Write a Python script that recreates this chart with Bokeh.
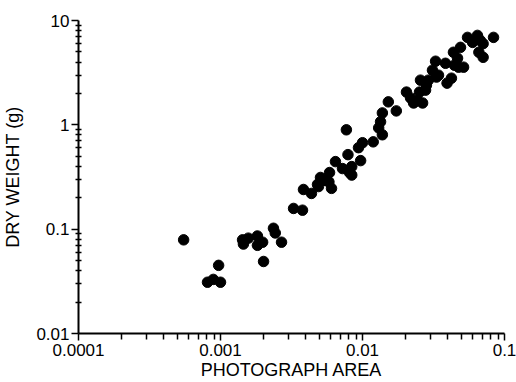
from bokeh.plotting import figure
from bokeh.models import FixedTicker, CustomJSTickFormatter, ColumnDataSource
from bokeh.embed import file_html
from bokeh.resources import INLINE

photo_area = [0.00055, 0.00081, 0.00089, 0.00100, 0.00097, 0.00143, 0.00145, 0.00157,
              0.00182, 0.00198, 0.00182, 0.00201, 0.00236, 0.00243, 0.00269, 0.00327,
              0.00378, 0.00384, 0.00437, 0.00482, 0.00506, 0.00549, 0.00586, 0.00605,
              0.00645, 0.00723, 0.0077, 0.0079, 0.0081, 0.0084, 0.0084, 0.00937,
              0.0100, 0.0097, 0.0119, 0.0138, 0.0130, 0.0134, 0.0138, 0.0152,
              0.0173, 0.0204, 0.0218, 0.0229, 0.0265, 0.0256, 0.0278, 0.0291,
              0.0282, 0.0311, 0.0327, 0.0343, 0.0332, 0.0384, 0.0394, 0.0423,
              0.0444, 0.0437, 0.0467, 0.0490, 0.0515, 0.0475, 0.0549, 0.0596,
              0.0645, 0.0675, 0.0707, 0.0660, 0.0707, 0.0837, 0.0049, 0.0058,
              0.0252, 0.0245]
dry_weight = [0.079, 0.031, 0.033, 0.031, 0.045, 0.079, 0.072, 0.082,
              0.086, 0.075, 0.070, 0.049, 0.102, 0.092, 0.075, 0.158,
              0.152, 0.240, 0.220, 0.268, 0.313, 0.293, 0.349, 0.246,
              0.444, 0.381, 0.896, 0.518, 0.349, 0.398, 0.33, 0.604,
              0.674, 0.454, 0.687, 0.803, 0.935, 1.07, 1.30, 1.66,
              1.36, 2.06, 1.81, 1.62, 1.62, 2.68, 2.15, 2.68,
              2.40, 3.34, 4.07, 2.99, 2.87, 3.89, 2.51, 2.80,
              3.73, 4.96, 4.35, 5.53, 3.57, 3.57, 6.89, 6.17,
              7.2, 6.45, 6.0, 4.96, 4.44, 6.89, 0.256, 0.284,
              2.06, 1.70]

x_decades = [0.0001, 0.001, 0.01, 0.1]
y_decades = [0.01, 0.1, 1, 10]

def minors(decades):
    out = []
    for d in decades[:-1]:
        out += [d * m for m in range(2, 10)]
    return out

font = "Liberation Sans"

p = figure(width=516, height=382, x_axis_type="log", y_axis_type="log",
           x_range=(x_decades[0], x_decades[-1]), y_range=(y_decades[0], y_decades[-1]),
           output_backend="svg", toolbar_location=None,
           min_border_top=20, min_border_right=12, min_border_left=10, min_border_bottom=10)
p.outline_line_color = None
p.grid.visible = False
p.background_fill_color = "white"
p.border_fill_color = "white"

src = ColumnDataSource(dict(x=photo_area, y=dry_weight))
p.scatter("x", "y", source=src, size=10.5, fill_color="black", line_color="black")

fmt = CustomJSTickFormatter(code="return tick.toString();")

xa = p.xaxis[0]
xa.ticker = FixedTicker(ticks=x_decades, minor_ticks=minors(x_decades))
xa.formatter = fmt
xa.axis_label = "PHOTOGRAPH AREA"
xa.axis_line_width = 2
xa.major_tick_line_width = 1.5
xa.minor_tick_line_width = 1.5
xa.major_tick_in = 0
xa.major_tick_out = 7
xa.minor_tick_in = 0
xa.minor_tick_out = 6
xa.major_label_standoff = 3
xa.axis_label_standoff = 1
xa.major_label_text_font = font
xa.major_label_text_font_size = "17px"
xa.major_label_text_color = "black"
xa.axis_label_text_font = font
xa.axis_label_text_font_size = "18px"
xa.axis_label_text_font_style = "normal"
xa.axis_label_text_color = "black"

ya = p.yaxis[0]
ya.ticker = FixedTicker(ticks=y_decades, minor_ticks=minors(y_decades))
ya.formatter = fmt
ya.axis_label = "DRY WEIGHT (g)"
ya.axis_line_width = 2
ya.major_tick_line_width = 1.5
ya.minor_tick_line_width = 1.5
ya.major_tick_in = 0
ya.major_tick_out = 7
ya.minor_tick_in = 3
ya.minor_tick_out = 3
ya.major_label_standoff = 2
ya.axis_label_standoff = 10
ya.major_label_text_font = font
ya.major_label_text_font_size = "17px"
ya.major_label_text_color = "black"
ya.axis_label_text_font = font
ya.axis_label_text_font_size = "18px"
ya.axis_label_text_font_style = "normal"
ya.axis_label_text_color = "black"

open("out.html", "w").write(file_html(p, INLINE))
